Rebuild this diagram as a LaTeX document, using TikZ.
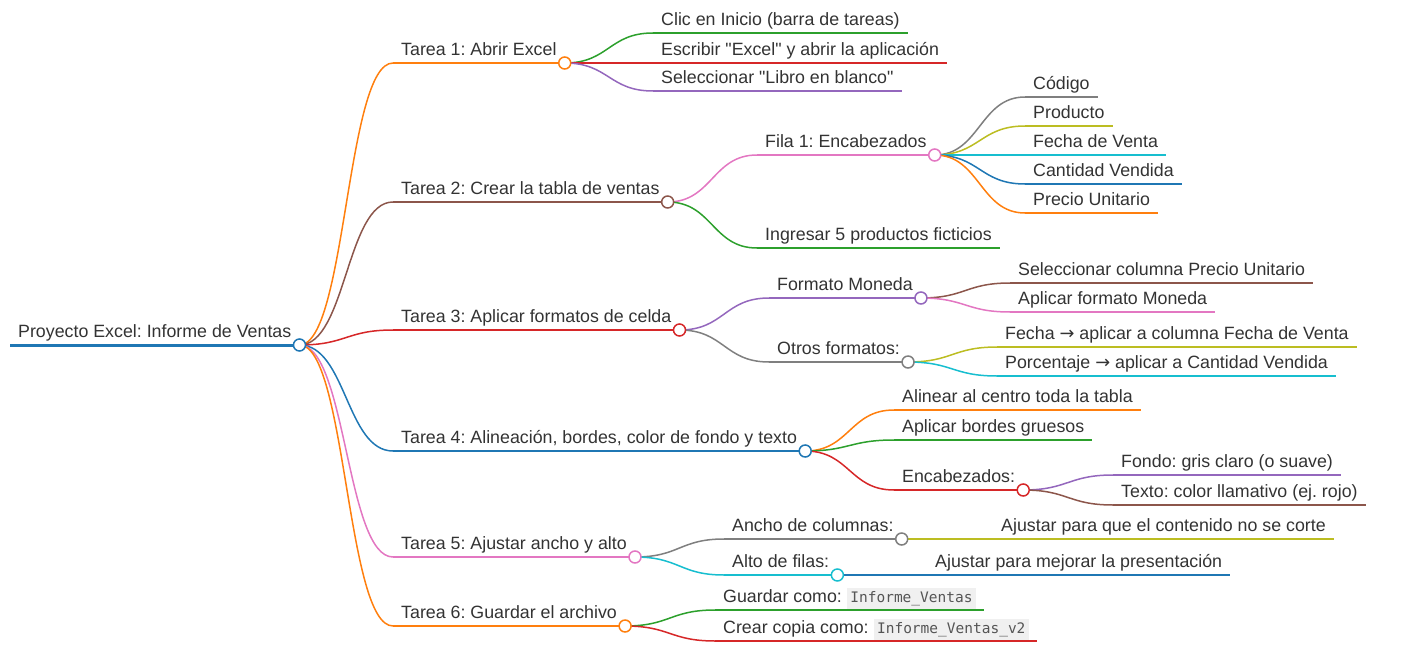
\documentclass[tikz,border=0pt]{standalone}
\usepackage{fontspec}
\setmainfont{Liberation Sans}[Ligatures=TeXOff]
\newfontfamily\codefont{DejaVu Sans Mono}
\newfontfamily\symfont{DejaVu Sans}
\usetikzlibrary{calc}

\definecolor{mblue}{HTML}{1F77B4}
\definecolor{morange}{HTML}{FF7F0E}
\definecolor{mgreen}{HTML}{2CA02C}
\definecolor{mred}{HTML}{D62728}
\definecolor{mpurple}{HTML}{9467BD}
\definecolor{mbrown}{HTML}{8C564B}
\definecolor{mpink}{HTML}{E377C2}
\definecolor{mgray}{HTML}{7F7F7F}
\definecolor{molive}{HTML}{BCBD22}
\definecolor{mcyan}{HTML}{17BECF}
\definecolor{ink}{HTML}{333333}
\definecolor{codebg}{HTML}{F0F0F0}
\definecolor{codefg}{HTML}{555555}

\newcommand\code[1]{{\setlength\fboxsep{3.5pt}\colorbox{codebg}{\codefont\fontsize{14.5}{16}\selectfont\color{codefg}#1}}}
\newcommand\arr{{\symfont →}}
\frenchspacing

\tikzset{
  topic/.style={anchor=south west, inner xsep=8pt, inner ysep=3pt, text height=13pt, text depth=4pt,
    font=\fontsize{17.8}{20}\selectfont, text=ink},
  rule/.style={line width=1.5pt},
  link/.style={line width=1.5pt, to path={let \p1=(\tikztostart), \p2=(\tikztotarget) in
    .. controls ({(\x1+\x2)/2},\y1) and ({(\x1+\x2)/2},\y2) .. (\tikztotarget)}},
  knot/.style={circle, draw, fill=white, line width=1.5pt, inner sep=0pt, minimum size=12pt},
}

\begin{document}
\begin{tikzpicture}[x=1pt, y=-1pt]
\useasboundingbox (0,0) rectangle (1425,669);

% root and tasks
\node[topic] (root) at (10,345) {Proyecto Excel: Informe de Ventas};
\node[topic] (tA) at (393,63)  {Tarea 1: Abrir Excel};
\node[topic] (tB) at (393,202) {Tarea 2: Crear la tabla de ventas};
\node[topic] (tC) at (393,330) {Tarea 3: Aplicar formatos de celda};
\node[topic] (tD) at (393,451) {Tarea 4: Alineación, bordes, color de fondo y texto};
\node[topic] (tE) at (393,557) {Tarea 5: Ajustar ancho y alto};
\node[topic] (tF) at (393,626) {Tarea 6: Guardar el archivo};

% tarea 1
\node[topic] (aA) at (653,33) {Clic en Inicio (barra de tareas)};
\node[topic] (aB) at (653,63) {Escribir "Excel" y abrir la aplicación};
\node[topic] (aC) at (653,91) {Seleccionar "Libro en blanco"};

% tarea 2
\node[topic] (bA) at (757,155) {Fila 1: Encabezados};
\node[topic] (bB) at (757,248) {Ingresar 5 productos ficticios};
\node[topic] (cA) at (1025,97)  {Código};
\node[topic] (cB) at (1025,126) {Producto};
\node[topic] (cC) at (1025,155) {Fecha de Venta};
\node[topic] (cD) at (1025,184) {Cantidad Vendida};
\node[topic] (cE) at (1025,213) {Precio Unitario};

% tarea 3
\node[topic] (dA) at (769,298) {Formato Moneda};
\node[topic] (dB) at (769,362) {Otros formatos:};
\node[topic] (eA) at (1010,283) {Seleccionar columna Precio Unitario};
\node[topic] (eB) at (1010,312) {Aplicar formato Moneda};
\node[topic] (fA) at (997,347) {Fecha \arr{} aplicar a columna Fecha de Venta};
\node[topic] (fB) at (997,376) {Porcentaje \arr{} aplicar a Cantidad Vendida};

% tarea 4
\node[topic] (gA) at (894,410) {Alinear al centro toda la tabla};
\node[topic] (gB) at (894,440) {Aplicar bordes gruesos};
\node[topic] (gC) at (894,490) {Encabezados:};
\node[topic] (hA) at (1113,475) {Fondo: gris claro (o suave)};
\node[topic] (hB) at (1113,505) {Texto: color llamativo (ej. rojo)};

% tarea 5
\node[topic] (iA) at (724,539) {Ancho de columnas:};
\node[topic] (iB) at (724,575) {Alto de filas:};
\node[topic] (jA) at (993,539) {Ajustar para que el contenido no se corte};
\node[topic] (kA) at (927,575) {Ajustar para mejorar la presentación};

% tarea 6
\node[topic] (lA) at (715,610) {Guardar como: \code{Informe\_Ventas}};
\node[topic] (lB) at (715,641) {Crear copia como: \code{Informe\_Ventas\_v2}};

% underlines
\draw[mblue, line width=3pt] (root.south west) -- (root.south east);
\draw[rule, morange] (tA.south west) -- (tA.south east);
\draw[rule, mbrown]  (tB.south west) -- (tB.south east);
\draw[rule, mred]    (tC.south west) -- (tC.south east);
\draw[rule, mblue]   (tD.south west) -- (tD.south east);
\draw[rule, mpink]   (tE.south west) -- (tE.south east);
\draw[rule, morange] (tF.south west) -- (tF.south east);
\draw[rule, mgreen]  (aA.south west) -- (aA.south east);
\draw[rule, mred]    (aB.south west) -- (aB.south east);
\draw[rule, mpurple] (aC.south west) -- (aC.south east);
\draw[rule, mpink]   (bA.south west) -- (bA.south east);
\draw[rule, mgreen]  (bB.south west) -- (bB.south east);
\draw[rule, mgray]   (cA.south west) -- (cA.south east);
\draw[rule, molive]  (cB.south west) -- (cB.south east);
\draw[rule, mcyan]   (cC.south west) -- (cC.south east);
\draw[rule, mblue]   (cD.south west) -- (cD.south east);
\draw[rule, morange] (cE.south west) -- (cE.south east);
\draw[rule, mpurple] (dA.south west) -- (dA.south east);
\draw[rule, mgray]   (dB.south west) -- (dB.south east);
\draw[rule, mbrown]  (eA.south west) -- (eA.south east);
\draw[rule, mpink]   (eB.south west) -- (eB.south east);
\draw[rule, molive]  (fA.south west) -- (fA.south east);
\draw[rule, mcyan]   (fB.south west) -- (fB.south east);
\draw[rule, morange] (gA.south west) -- (gA.south east);
\draw[rule, mgreen]  (gB.south west) -- (gB.south east);
\draw[rule, mred]    (gC.south west) -- (gC.south east);
\draw[rule, mpurple] (hA.south west) -- (hA.south east);
\draw[rule, mbrown]  (hB.south west) -- (hB.south east);
\draw[rule, mgray]   (iA.south west) -- (iA.south east);
\draw[rule, mcyan]   (iB.south west) -- (iB.south east);
\draw[rule, molive]  (jA.south west) -- (jA.south east);
\draw[rule, mblue]   (kA.south west) -- (kA.south east);
\draw[rule, mgreen]  (lA.south west) -- (lA.south east);
\draw[rule, mred]    (lB.south west) -- (lB.south east);

% links
\draw[link, morange] (root.south east) to (tA.south west);
\draw[link, mbrown]  (root.south east) to (tB.south west);
\draw[link, mred]    (root.south east) to (tC.south west);
\draw[link, mblue]   (root.south east) to (tD.south west);
\draw[link, mpink]   (root.south east) to (tE.south west);
\draw[link, morange] (root.south east) to (tF.south west);
\draw[link, mgreen]  (tA.south east) to (aA.south west);
\draw[link, mred]    (tA.south east) to (aB.south west);
\draw[link, mpurple] (tA.south east) to (aC.south west);
\draw[link, mpink]   (tB.south east) to (bA.south west);
\draw[link, mgreen]  (tB.south east) to (bB.south west);
\draw[link, mgray]   (bA.south east) to (cA.south west);
\draw[link, molive]  (bA.south east) to (cB.south west);
\draw[link, mcyan]   (bA.south east) to (cC.south west);
\draw[link, mblue]   (bA.south east) to (cD.south west);
\draw[link, morange] (bA.south east) to (cE.south west);
\draw[link, mpurple] (tC.south east) to (dA.south west);
\draw[link, mgray]   (tC.south east) to (dB.south west);
\draw[link, mbrown]  (dA.south east) to (eA.south west);
\draw[link, mpink]   (dA.south east) to (eB.south west);
\draw[link, molive]  (dB.south east) to (fA.south west);
\draw[link, mcyan]   (dB.south east) to (fB.south west);
\draw[link, morange] (tD.south east) to (gA.south west);
\draw[link, mgreen]  (tD.south east) to (gB.south west);
\draw[link, mred]    (tD.south east) to (gC.south west);
\draw[link, mpurple] (gC.south east) to (hA.south west);
\draw[link, mbrown]  (gC.south east) to (hB.south west);
\draw[link, mgray]   (tE.south east) to (iA.south west);
\draw[link, mcyan]   (tE.south east) to (iB.south west);
\draw[link, molive]  (iA.south east) to (jA.south west);
\draw[link, mblue]   (iB.south east) to (kA.south west);
\draw[link, mgreen]  (tF.south east) to (lA.south west);
\draw[link, mred]    (tF.south east) to (lB.south west);

% circles
\node[knot, draw=mblue]   (rootK) at (root.south east) {};
\node[knot, draw=morange] (tAK) at (tA.south east) {};
\node[knot, draw=mbrown]  (tBK) at (tB.south east) {};
\node[knot, draw=mred]    (tCK) at (tC.south east) {};
\node[knot, draw=mblue]   (tDK) at (tD.south east) {};
\node[knot, draw=mpink]   (tEK) at (tE.south east) {};
\node[knot, draw=morange] (tFK) at (tF.south east) {};
\node[knot, draw=mpink]   (bAK) at (bA.south east) {};
\node[knot, draw=mpurple] (dAK) at (dA.south east) {};
\node[knot, draw=mgray]   (dBK) at (dB.south east) {};
\node[knot, draw=mred]    (gCK) at (gC.south east) {};
\node[knot, draw=mgray]   (iAK) at (iA.south east) {};
\node[knot, draw=mcyan]   (iBK) at (iB.south east) {};
\end{tikzpicture}
\end{document}
